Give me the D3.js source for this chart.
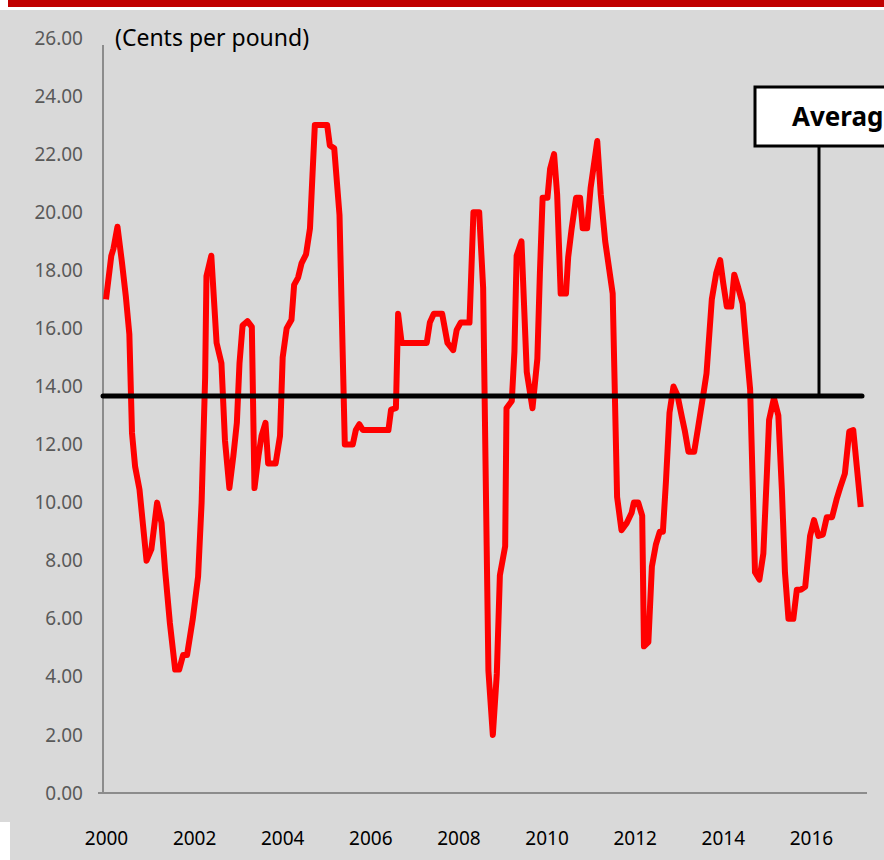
<!DOCTYPE html>
<html>
<head>
<meta charset="utf-8">
<script src="https://cdn.jsdelivr.net/npm/d3@7"></script>
<style>
  html, body { margin: 0; padding: 0; background: #fff; }
  svg { display: block; font-family: "Noto Sans", "Open Sans", sans-serif; }
</style>
</head>
<body>
<div id="chart"></div>
<script>
'use strict'

// monthly price readings (decimal year, cents per pound)
const years = [
    2000.00, 2000.12, 2000.17, 2000.26, 2000.36, 2000.45, 2000.53, 2000.59, 2000.66, 2000.76,
    2000.92, 2001.03, 2001.16, 2001.26, 2001.34, 2001.45, 2001.57, 2001.66, 2001.75, 2001.84,
    2001.97, 2002.09, 2002.17, 2002.25, 2002.28, 2002.39, 2002.51, 2002.62, 2002.70, 2002.80,
    2002.89, 2002.97, 2003.03, 2003.10, 2003.21, 2003.31, 2003.37, 2003.46, 2003.53, 2003.62,
    2003.68, 2003.85, 2003.95, 2004.01, 2004.10, 2004.21, 2004.27, 2004.36, 2004.44, 2004.54,
    2004.63, 2004.69, 2004.74, 2005.02, 2005.08, 2005.18, 2005.30, 2005.42, 2005.60, 2005.67,
    2005.75, 2005.83, 2006.41, 2006.47, 2006.58, 2006.63, 2006.71, 2007.28, 2007.35, 2007.44,
    2007.63, 2007.75, 2007.88, 2007.96, 2008.05, 2008.25, 2008.34, 2008.47, 2008.56, 2008.64,
    2008.68, 2008.78, 2008.87, 2008.94, 2009.06, 2009.09, 2009.21, 2009.27, 2009.32, 2009.43,
    2009.55, 2009.68, 2009.79, 2009.85, 2009.91, 2010.02, 2010.08, 2010.17, 2010.24, 2010.32,
    2010.44, 2010.49, 2010.57, 2010.67, 2010.76, 2010.82, 2010.92, 2011.00, 2011.15, 2011.23,
    2011.33, 2011.50, 2011.60, 2011.70, 2011.82, 2011.93, 2011.98, 2012.08, 2012.17, 2012.21,
    2012.31, 2012.39, 2012.48, 2012.57, 2012.64, 2012.71, 2012.79, 2012.88, 2012.97, 2013.07,
    2013.14, 2013.22, 2013.35, 2013.44, 2013.56, 2013.63, 2013.75, 2013.85, 2013.94, 2014.01,
    2014.09, 2014.19, 2014.26, 2014.35, 2014.45, 2014.54, 2014.62, 2014.68, 2014.73, 2014.83,
    2014.92, 2015.00, 2015.05, 2015.16, 2015.26, 2015.34, 2015.41, 2015.49, 2015.60, 2015.68,
    2015.77, 2015.87, 2015.98, 2016.07, 2016.17, 2016.27, 2016.36, 2016.48, 2016.58, 2016.66,
    2016.77, 2016.87, 2016.96, 2017.04, 2017.13
];

const prices = [
    17.0, 18.5, 18.75, 19.5, 18.3, 17.1, 15.8, 12.4, 11.25, 10.45,
    8.0, 8.4, 10.0, 9.3, 7.7, 5.85, 4.25, 4.25, 4.75, 4.75,
    6.0, 7.45, 10.0, 14.3, 17.8, 18.5, 15.5, 14.8, 12.15, 10.5,
    11.6, 12.75, 14.8, 16.1, 16.25, 16.05, 10.5, 11.6, 12.3, 12.75,
    11.35, 11.35, 12.3, 15.0, 16.0, 16.3, 17.5, 17.75, 18.25, 18.55,
    19.45, 21.4, 23.0, 23.0, 22.3, 22.2, 19.9, 12.0, 12.0, 12.5,
    12.7, 12.5, 12.5, 13.2, 13.25, 16.5, 15.5, 15.5, 16.2, 16.5,
    16.5, 15.5, 15.25, 15.95, 16.2, 16.2, 20.0, 20.0, 17.4, 8.5,
    4.2, 2.0, 4.1, 7.5, 8.5, 13.25, 13.5, 15.2, 18.5, 19.0,
    14.5, 13.25, 14.95, 18.0, 20.5, 20.5, 21.5, 22.0, 20.6, 17.2,
    17.2, 18.45, 19.45, 20.5, 20.5, 19.45, 19.45, 20.85, 22.45, 20.6,
    19.0, 17.2, 10.2, 9.05, 9.3, 9.65, 10.0, 10.0, 9.55, 5.05,
    5.2, 7.8, 8.55, 9.0, 9.0, 10.75, 13.1, 14.0, 13.7, 12.95,
    12.45, 11.75, 11.75, 12.6, 13.75, 14.45, 17.0, 17.9, 18.35, 17.55,
    16.75, 16.75, 17.85, 17.4, 16.85, 15.25, 13.9, 10.55, 7.6, 7.35,
    8.25, 11.0, 12.85, 13.6, 13.0, 10.45, 7.6, 6.0, 6.0, 7.0,
    7.0, 7.1, 8.85, 9.4, 8.85, 8.9, 9.5, 9.5, 10.1, 10.5,
    11.0, 12.45, 12.5, 11.25, 9.85
];

const averagePrice = 13.67;
const yTicks = [0, 2, 4, 6, 8, 10, 12, 14, 16, 18, 20, 22, 24, 26];
const xTicks = [2000, 2002, 2004, 2006, 2008, 2010, 2012, 2014, 2016];
const unitLabel = "(Cents per pound)";
const averageLabel = "Average";

const width = 884;
const height = 860;

const svg = d3.select("#chart")
    .append("svg")
    .attr("width", width)
    .attr("height", height);

// backdrop
svg.append("rect").attr("x", 0).attr("y", 10).attr("width", width).attr("height", 812).attr("fill", "#d9d9d9");
svg.append("rect").attr("x", 10).attr("y", 822).attr("width", width - 10).attr("height", 38).attr("fill", "#d9d9d9");
svg.append("rect").attr("x", 8).attr("y", 0).attr("width", width - 8).attr("height", 7).attr("fill", "#c00000");

const x = d3.scaleLinear()
    .domain([2000, 2017])
    .range([106, 855]);

const y = d3.scaleLinear()
    .domain([0, 26])
    .range([793, 38]);

// axis lines
svg.append("line")
    .attr("x1", 103).attr("x2", 103)
    .attr("y1", 45).attr("y2", y(0))
    .attr("stroke", "#8c8c8c").attr("stroke-width", 2);
svg.append("line")
    .attr("x1", 98).attr("x2", 867)
    .attr("y1", y(0)).attr("y2", y(0))
    .attr("stroke", "#8c8c8c").attr("stroke-width", 2);

// Y axis labels
const yAxis = svg.append("g")
    .attr("transform", "translate(103,0)")
    .call(d3.axisLeft(y).tickValues(yTicks).tickFormat(d3.format(".2f")).tickSize(0).tickPadding(20));
yAxis.select(".domain").remove();
yAxis.selectAll("text")
    .attr("fill", "#595959")
    .style("font-size", "19px")
    .style("font-family", "'Noto Sans', sans-serif");

// X axis labels
const xAxis = svg.append("g")
    .attr("transform", `translate(0,${y(0)})`)
    .call(d3.axisBottom(x).tickValues(xTicks).tickFormat(d3.format("d")).tickSize(0).tickPadding(39));
xAxis.select(".domain").remove();
xAxis.selectAll("text")
    .attr("fill", "#000")
    .style("font-size", "19px")
    .style("font-family", "'Noto Sans', sans-serif");

// unit label
svg.append("text")
    .attr("x", 115)
    .attr("y", 46)
    .style("font-size", "23px")
    .attr("fill", "#000")
    .text(unitLabel);

// price line
const series = d3.zip(years, prices);
const line = d3.line()
    .x(d => x(d[0]))
    .y(d => y(d[1]));

svg.append("path")
    .datum(series)
    .attr("d", line)
    .attr("fill", "none")
    .attr("stroke", "#ff0000")
    .attr("stroke-width", 6)
    .attr("stroke-linejoin", "round");

// average line
svg.append("line")
    .attr("x1", 103).attr("x2", 862)
    .attr("y1", y(averagePrice)).attr("y2", y(averagePrice))
    .attr("stroke", "#000")
    .attr("stroke-width", 5)
    .attr("stroke-linecap", "round");

// callout
svg.append("line")
    .attr("x1", 819).attr("x2", 819)
    .attr("y1", 146).attr("y2", y(averagePrice))
    .attr("stroke", "#000")
    .attr("stroke-width", 3);

svg.append("rect")
    .attr("x", 755).attr("y", 87)
    .attr("width", 140).attr("height", 59)
    .attr("fill", "#fff")
    .attr("stroke", "#000")
    .attr("stroke-width", 3);

svg.append("text")
    .attr("x", 792)
    .attr("y", 126)
    .style("font-size", "26px")
    .style("font-weight", "bold")
    .attr("fill", "#000")
    .text(averageLabel);
</script>
</body>
</html>
